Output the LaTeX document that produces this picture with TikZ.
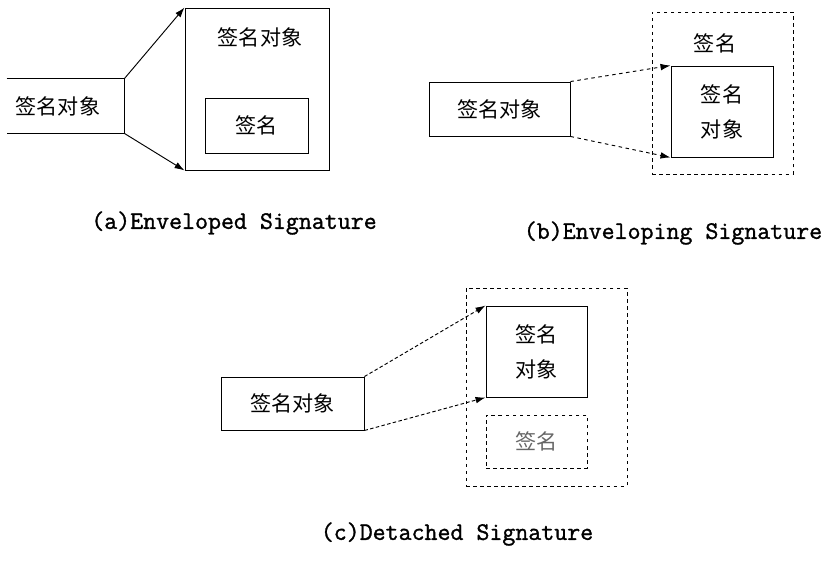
\documentclass[tikz,border=0pt]{standalone}
\usepackage{fontspec}
\newfontfamily\capfont[FakeBold=1.2]{Latin Modern Mono}
\newfontfamily\cjk{Noto Sans CJK SC}
\usetikzlibrary{arrows.meta,positioning}

\begin{document}
\begin{tikzpicture}[x=0.03cm,y=-0.03cm,
        cjktext/.style={font=\cjk\fontsize{18}{30}\selectfont,align=center},
        sigbox/.style={cjktext,draw,line width=0.8pt,inner sep=0pt},
        dsigbox/.style={sigbox,dashed},
        captext/.style={font=\capfont\fontsize{21.5}{24}\selectfont},
        arr/.style={line width=0.8pt,-{Latex[length=3mm,width=2mm]}}]
    \useasboundingbox (0,0) rectangle (833,565);

    % (a)
    \node[sigbox,draw=none,minimum width=3.51cm,minimum height=1.62cm] (objA) at (65.5,106) {};
    \node[cjktext] (objAtext) at (58,106) {签名对象};
    \draw[line width=0.8pt] (objA.north west) -- (objA.north east) -- (objA.south east) -- (objA.south west);
    \node[sigbox,minimum width=4.32cm,minimum height=4.86cm] (envA) at (257,89) {};
    \node[cjktext] (envAtext) at (260,37) {签名对象};
    \node[sigbox,minimum width=3.09cm,minimum height=1.65cm] (sigA) at (256.5,125.5) {签名};
    \draw[arr] (objA.north east) -- (envA.north west);
    \draw[arr] (objA.south east) -- (envA.south west);
    \node[captext] (capA) at (234,223) {(a)Enveloped Signature};

    % (b)
    \node[sigbox,minimum width=4.23cm,minimum height=1.62cm] (objB) at (499.5,109) {签名对象};
    \node[dsigbox,minimum width=4.23cm,minimum height=4.86cm] (envB) at (722.5,93) {};
    \node[cjktext] (envBtext) at (715,43) {签名};
    \node[sigbox,minimum width=3.06cm,minimum height=2.73cm] (innerB) at (722,111.5) {签名\\对象};
    \draw[arr,dashed] (objB.north east) -- (innerB.north west);
    \draw[arr,dashed] (objB.south east) -- (innerB.south west);
    \node[captext] (capB) at (673,233) {(b)Enveloping Signature};

    % (c)
    \node[sigbox,minimum width=4.29cm,minimum height=1.59cm] (objC) at (292.5,403.5) {签名对象};
    \node[dsigbox,minimum width=4.83cm,minimum height=5.94cm] (envC) at (546.5,387) {};
    \node[sigbox,minimum width=3.03cm,minimum height=2.73cm] (innerC) at (536.5,351.5) {签名\\对象};
    \node[dsigbox,text=black!60,minimum width=3.03cm,minimum height=1.59cm] (sigC) at (536.5,441.5) {签名};
    \draw[arr,densely dashed] (objC.north east) -- (innerC.north west);
    \draw[arr,densely dashed] (objC.south east) -- (innerC.south west);
    \node[captext] (capC) at (457,534) {(c)Detached Signature};
\end{tikzpicture}
\end{document}
